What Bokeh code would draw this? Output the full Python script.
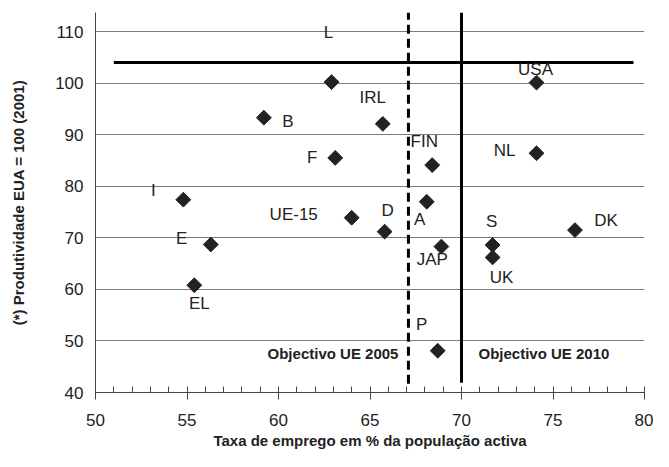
import math
from bokeh.plotting import figure
from bokeh.models import ColumnDataSource, Range1d, FixedTicker, Label
from bokeh.core.properties import value
from bokeh.embed import file_html
from bokeh.resources import INLINE

# Data
countries = ["L", "B", "IRL", "F", "FIN", "USA", "NL", "I", "UE-15", "D", "A",
             "S", "DK", "E", "JAP", "UK", "EL", "P"]
emprego = [62.9, 59.2, 65.7, 63.1, 68.4, 74.1, 74.1, 54.8, 64.0, 65.8, 68.1,
           71.7, 76.2, 56.3, 68.9, 71.7, 55.4, 68.7]
produtividade = [100.2, 93.3, 92.1, 85.5, 84.1, 100.1, 86.4, 77.4, 73.9, 71.2, 77.0,
                 68.6, 71.5, 68.7, 68.3, 66.2, 60.8, 48.1]
# label offsets in screen pixels (style)
label_dx = [-3, 24, -10, -23, -8, -1, -32, -30, -58, 3, -7, -1, 31, -29, -9, 9, 5, -16]
label_dy = [-50, 4, -26, 0, -24, -13, -3, -9, -3, -21, 18, -24, -10, -6, 13, 20, 18, -26]

usa_level = 104.0
objectivo_2005 = 67.1
objectivo_2010 = 70.0
x_ticks = [50, 55, 60, 65, 70, 75, 80]
y_ticks = [40, 50, 60, 70, 80, 90, 100, 110]

FONT = "Liberation Sans"

src = ColumnDataSource(dict(x=emprego, y=produtividade, name=countries,
                            dx=label_dx, dy=label_dy))

p = figure(width=653, height=451, output_backend="svg", toolbar_location=None,
           x_range=Range1d(50, 80), y_range=Range1d(40, 113.7),
           min_border_left=95, min_border_right=9, min_border_top=12, min_border_bottom=59)
p.outline_line_color = None
p.background_fill_color = "white"

# axes
p.xaxis.ticker = FixedTicker(ticks=x_ticks, minor_ticks=list(range(50, 81)))
p.yaxis.ticker = FixedTicker(ticks=y_ticks)
for ax in (p.xaxis[0], p.yaxis[0]):
    ax.axis_line_color = "#444444"
    ax.axis_line_width = 1
    ax.major_tick_line_color = "#444444"
    ax.minor_tick_line_color = "#444444"
    ax.major_label_text_font = FONT
    ax.major_label_text_font_size = "17px"
    ax.major_label_text_color = "#222222"
    ax.axis_label_text_font = FONT
    ax.axis_label_text_font_style = "bold"
    ax.axis_label_text_font_size = "15px"
    ax.axis_label_text_color = "#222222"

p.xaxis.major_tick_in = 4
p.xaxis.major_tick_out = 7
p.xaxis.minor_tick_in = 6
p.xaxis.minor_tick_out = 0
p.xaxis.major_label_standoff = 14
p.xaxis.axis_label = "Taxa de emprego em % da população activa"
p.xaxis.axis_label_standoff = 3

p.yaxis.major_tick_in = 0
p.yaxis.major_tick_out = 0
p.yaxis.minor_tick_in = 0
p.yaxis.minor_tick_out = 0
p.yaxis.major_label_standoff = 12
p.yaxis.axis_label = "(*) Produtividade EUA = 100 (2001)"
p.yaxis.axis_label_standoff = 25

p.xgrid.grid_line_color = None
p.ygrid.grid_line_color = "#7a7a7a"
p.ygrid.grid_line_width = 1

# reference lines
p.line(x=[51.0, 79.4], y=[usa_level, usa_level], line_color="black", line_width=3)
p.line(x=[objectivo_2005, objectivo_2005], y=[41.7, 113.7], line_color="black",
       line_width=3, line_dash="9 5")
p.line(x=[objectivo_2010, objectivo_2010], y=[41.9, 113.7], line_color="black",
       line_width=3)

# points
p.scatter("x", "y", source=src, marker="square", angle=math.pi / 4, size=10.5,
          fill_color="#222222", line_color="#222222")

p.text("x", "y", text="name", source=src, x_offset="dx", y_offset="dy",
       text_align="center", text_baseline="middle", text_font=value(FONT),
       text_font_size="17px", text_color="#222222")

p.add_layout(Label(x=objectivo_2005, y=47.5, x_offset=-10, text="Objectivo UE 2005",
                   text_align="right", text_baseline="middle", text_font=FONT,
                   text_font_style="bold", text_font_size="15px", text_color="#222222"))
p.add_layout(Label(x=objectivo_2010, y=47.5, x_offset=17, text="Objectivo UE 2010",
                   text_align="left", text_baseline="middle", text_font=FONT,
                   text_font_style="bold", text_font_size="15px", text_color="#222222"))

open("out.html", "w").write(file_html(p, INLINE))
